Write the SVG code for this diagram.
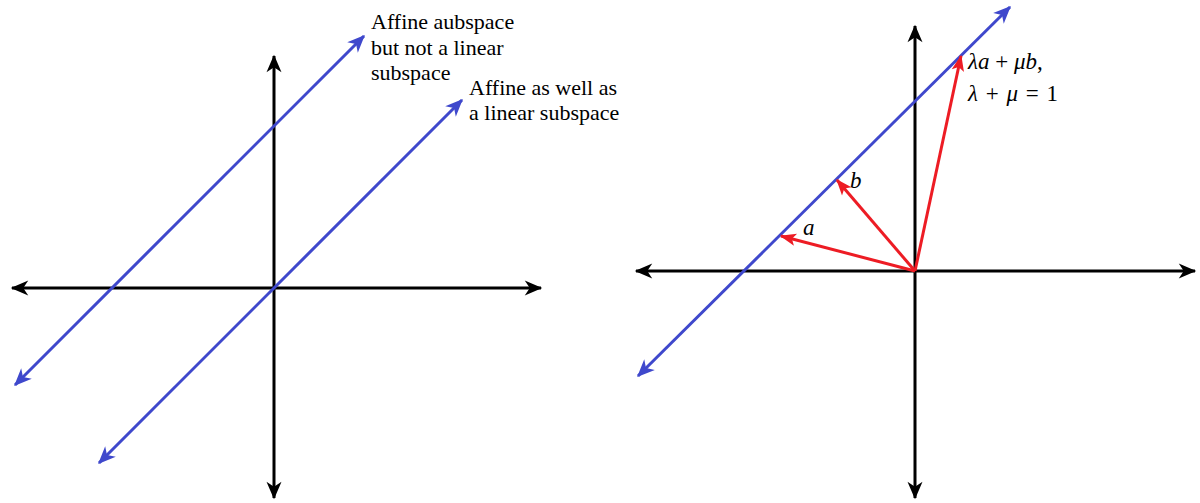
<svg xmlns="http://www.w3.org/2000/svg" width="1200" height="503" viewBox="0 0 1200 503">
<style>
.ax{stroke:#000;stroke-width:3;fill:none}
.bl{stroke:#3f48cc;stroke-width:3;fill:none}
.rd{stroke:#ed1c24;stroke-width:3;fill:none}
.lbl{font-family:"Liberation Serif","Times New Roman",serif;font-size:22px;fill:#000}
.m{font-family:"Liberation Serif","Times New Roman",serif;font-size:23px;fill:#000}
.i{font-style:italic}
</style>
<defs>
<marker id="ak" markerUnits="userSpaceOnUse" markerWidth="20" markerHeight="20" viewBox="-14 -7 16 14" refX="0" refY="0" orient="auto-start-reverse">
<path d="M1,0 L-13,-6 L-9,0 L-13,6 Z" fill="#000"/>
</marker>
<marker id="ab" markerUnits="userSpaceOnUse" markerWidth="20" markerHeight="20" viewBox="-14 -7 16 14" refX="0" refY="0" orient="auto-start-reverse">
<path d="M1,0 L-13,-6 L-9,0 L-13,6 Z" fill="#3f48cc"/>
</marker>
<marker id="ar" markerUnits="userSpaceOnUse" markerWidth="20" markerHeight="20" viewBox="-14 -7 16 14" refX="0" refY="0" orient="auto">
<path d="M1,0 L-12,-5 L-9,0 L-12,5 Z" fill="#ed1c24"/>
</marker>
</defs>
<g id="connectors">
<line class="ax" x1="12" y1="288" x2="541" y2="288" marker-start="url(#ak)" marker-end="url(#ak)"/>
<line class="ax" x1="274" y1="56" x2="274" y2="498" marker-start="url(#ak)" marker-end="url(#ak)"/>
<line class="bl" x1="15" y1="385" x2="364" y2="36" marker-start="url(#ab)" marker-end="url(#ab)"/>
<line class="bl" x1="99" y1="463" x2="462" y2="100" marker-start="url(#ab)" marker-end="url(#ab)"/>
<line class="ax" x1="636" y1="271" x2="1195" y2="271" marker-start="url(#ak)" marker-end="url(#ak)"/>
<line class="ax" x1="915" y1="26" x2="915" y2="498" marker-start="url(#ak)" marker-end="url(#ak)"/>
<line class="bl" x1="638" y1="376" x2="1010" y2="7" marker-start="url(#ab)" marker-end="url(#ab)"/>
<line class="rd" x1="915" y1="271" x2="781" y2="236" marker-end="url(#ar)"/>
<line class="rd" x1="915" y1="271" x2="837" y2="180" marker-end="url(#ar)"/>
<line class="rd" x1="915" y1="271" x2="961" y2="56" marker-end="url(#ar)"/>
</g>
<g id="label-affine-not-linear">
<text class="lbl" x="371" y="29">Affine aubspace</text>
<text class="lbl" x="371" y="55">but not a linear</text>
<text class="lbl" x="371" y="80">subspace</text>
</g>
<g id="label-affine-linear">
<text class="lbl" x="469" y="95">Affine as well as</text>
<text class="lbl" x="469" y="120">a linear subspace</text>
</g>
<g id="label-a"><text class="m i" x="803" y="235">a</text></g>
<g id="label-b"><text class="m i" x="850" y="188">b</text></g>
<g id="label-combo">
<text class="m" x="968" y="69"><tspan class="i">λa</tspan> + <tspan class="i">μb</tspan>,</text>
<text class="m" x="968" y="101" word-spacing="2"><tspan class="i">λ</tspan> + <tspan class="i">μ</tspan> = 1</text>
</g>
</svg>
